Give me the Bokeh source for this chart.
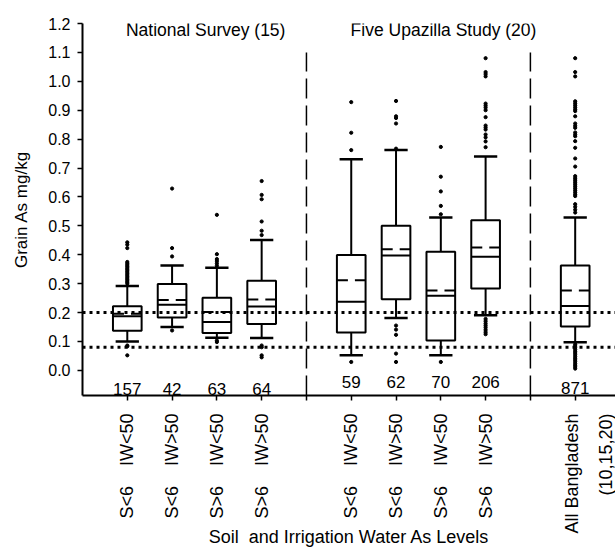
import numpy as np
from bokeh.plotting import figure
from bokeh.models import FixedTicker, PrintfTickFormatter, Span, Range1d, ColumnDataSource
from bokeh.core.properties import value
from bokeh.embed import file_html
from bokeh.resources import INLINE

# ---------------- data ----------------
group_titles = ["National Survey (15)", "Five Upazilla Study (20)", ""]
group_sizes = [4, 4, 1]
NB = "\u00a0"
tick_labels = [
    "S<6" + NB * 4 + "IW<50", "S<6" + NB * 4 + "IW>50", "S>6" + NB * 4 + "IW<50", "S>6" + NB * 4 + "IW>50",
    "S<6" + NB * 4 + "IW<50", "S<6" + NB * 4 + "IW>50", "S>6" + NB * 4 + "IW<50", "S>6" + NB * 4 + "IW>50",
    "All Bangladesh\n(10,15,20)",
]
counts = [157, 42, 63, 64, 59, 62, 70, 206, 871]
q1 = [0.137, 0.183, 0.129, 0.160, 0.131, 0.246, 0.103, 0.283, 0.152]
median = [0.187, 0.227, 0.167, 0.221, 0.237, 0.397, 0.258, 0.393, 0.223]
q3 = [0.222, 0.299, 0.251, 0.310, 0.399, 0.500, 0.410, 0.519, 0.363]
mean = [0.196, 0.243, 0.202, 0.245, 0.312, 0.419, 0.276, 0.425, 0.276]
whisker_low = [0.100, 0.150, 0.113, 0.112, 0.052, 0.181, 0.052, 0.191, 0.097]
whisker_high = [0.292, 0.363, 0.355, 0.451, 0.730, 0.762, 0.529, 0.740, 0.529]
outliers = [
    [0.443, 0.435, 0.423, 0.375, 0.370, 0.365, 0.360, 0.355, 0.350, 0.345, 0.340, 0.335,
     0.330, 0.325, 0.320, 0.315, 0.310, 0.305, 0.300, 0.086, 0.083, 0.052],
    [0.629, 0.423, 0.394, 0.138],
    [0.538, 0.402, 0.385, 0.378, 0.370, 0.362, 0.103, 0.098],
    [0.655, 0.607, 0.592, 0.515, 0.483, 0.468, 0.086, 0.080, 0.052, 0.045],
    [0.928, 0.822, 0.762, 0.029],
    [0.932, 0.879, 0.873, 0.854, 0.767, 0.155, 0.141, 0.123, 0.058, 0.029],
    [0.773, 0.670, 0.619, 0.569, 0.540, 0.029],
    [1.080, 1.032, 1.025, 1.017, 0.923, 0.916, 0.909, 0.900, 0.876, 0.847, 0.840, 0.833,
     0.816, 0.806, 0.792, 0.772, 0.178, 0.170, 0.162, 0.155, 0.148, 0.140, 0.132, 0.125],
    [1.080, 1.032, 1.017, 0.931, 0.924, 0.917, 0.910, 0.903, 0.897, 0.879, 0.854, 0.846,
     0.839, 0.823, 0.816, 0.810, 0.793, 0.770, 0.733, 0.705, 0.672, 0.665, 0.658, 0.651,
     0.644, 0.637, 0.630, 0.623, 0.616, 0.609, 0.603, 0.575, 0.566, 0.556, 0.546,
     0.090, 0.084, 0.078, 0.072, 0.066, 0.060, 0.054, 0.048, 0.042, 0.036, 0.030,
     0.024, 0.018, 0.012, 0.006],
]
reference_levels = [0.2, 0.08]
y_ticks = [0.0, 0.1, 0.2, 0.3, 0.4, 0.5, 0.6, 0.7, 0.8, 0.9, 1.0, 1.1, 1.2]
x_title = "Soil" + NB + NB + "and Irrigation Water As Levels"
y_title = "Grain As mg/kg"

# ---------------- positions from group structure ----------------
positions, dividers, group_centers = [], [], []
start = 1
for size in group_sizes:
    pos = list(range(start, start + size))
    positions += pos
    group_centers.append(np.mean(pos))
    dividers.append(start + size)
    start += size + 1
dividers = dividers[:-1]

FONT = "Liberation Sans"
Y0, Y1 = -0.087, 1.2
p = figure(width=615, height=549, output_backend="svg", toolbar_location=None,
           x_range=Range1d(0, 11.9), y_range=Range1d(Y0, Y1),
           min_border_left=82, min_border_right=0, min_border_top=23, min_border_bottom=152)
p.outline_line_color = None
p.xgrid.visible = False
p.ygrid.visible = False
p.background_fill_color = "white"
p.border_fill_color = "white"

# reference dotted lines
for lvl in reference_levels:
    p.add_layout(Span(location=lvl, dimension="width", line_color="black",
                      line_width=3, line_dash="3 4"))

# group dividers
p.segment(x0=dividers, x1=dividers, y0=[Y0] * len(dividers), y1=[1.1] * len(dividers),
          line_color="black", line_width=1.5, line_dash="20 7")

bw = 0.64
cw = 0.52
src = ColumnDataSource(dict(x=positions, q1=q1, q3=q3, med=median, mean=mean,
                            lo=whisker_low, hi=whisker_high, n=[str(c) for c in counts]))
# whiskers
p.segment(x0="x", x1="x", y0="q3", y1="hi", source=src, line_color="black", line_width=2)
p.segment(x0="x", x1="x", y0="lo", y1="q1", source=src, line_color="black", line_width=2)
xs = np.array(positions, dtype=float)
p.segment(x0=xs - cw / 2, x1=xs + cw / 2, y0=whisker_high, y1=whisker_high, line_color="black", line_width=2.5)
p.segment(x0=xs - cw / 2, x1=xs + cw / 2, y0=whisker_low, y1=whisker_low, line_color="black", line_width=2.5)
# boxes
p.vbar(x="x", width=bw, bottom="q1", top="q3", source=src, fill_color="white",
       line_color="black", line_width=2)
p.segment(x0=xs - bw / 2, x1=xs + bw / 2, y0=median, y1=median, line_color="black", line_width=2)
p.segment(x0=xs - bw / 2, x1=xs + bw / 2, y0=mean, y1=mean, line_color="black", line_width=2,
          line_dash="11 7")

# outliers
ox, oy = [], []
for x, vals in zip(positions, outliers):
    ox += [x] * len(vals)
    oy += vals
p.scatter(ox, oy, size=3.2, marker="circle", fill_color="black", line_color="black")

# counts
count_y = []
for g, size in enumerate(group_sizes):
    count_y += [[-0.063, -0.042, -0.061][g]] * size
src.data["cy"] = count_y
p.text(x="x", y="cy", text="n", source=src, text_align="center", text_baseline="middle",
       text_font=value(FONT), text_font_size="17px", text_color="black")

# group titles
p.text(x=[2.75, 8.06], y=[1.176, 1.176], text=group_titles[:2], text_align="center",
       text_baseline="middle", text_font=value(FONT), text_font_size="17.5px", text_color="black")

# axes
p.yaxis.ticker = FixedTicker(ticks=y_ticks)
p.yaxis.formatter = PrintfTickFormatter(format="%.1f")
p.yaxis.axis_label = y_title
p.xaxis.axis_label = x_title
tick_pos = sorted(positions + dividers)
p.xaxis.ticker = FixedTicker(ticks=tick_pos)
overrides = {d: "" for d in dividers}
for x, lab in zip(positions, tick_labels):
    # multi-line label: pad with a blank leading line so the first text line sits on the tick
    overrides[x] = (NB + "\n" + lab) if "\n" in lab else lab
p.xaxis.major_label_overrides = overrides
p.xaxis.major_label_orientation = np.pi / 2
for ax in (p.xaxis[0], p.yaxis[0]):
    ax.axis_line_width = 2
    ax.axis_line_color = "black"
    ax.major_tick_line_width = 1.5
    ax.major_tick_line_color = "black"
    ax.major_tick_in = 0
    ax.major_tick_out = 5
    ax.minor_tick_line_color = None
    ax.major_label_text_font = FONT
    ax.major_label_text_color = "black"
    ax.axis_label_text_font = FONT
    ax.axis_label_text_font_style = "normal"
    ax.axis_label_text_color = "black"
p.yaxis.major_label_text_font_size = "16px"
p.xaxis.major_label_text_font_size = "18px"
p.xaxis.major_label_text_line_height = 1.7
p.yaxis.axis_label_text_font_size = "17px"
p.xaxis.axis_label_text_font_size = "18px"
p.yaxis.major_label_standoff = 7
p.yaxis.axis_label_standoff = 14
p.xaxis.major_label_standoff = 13
p.xaxis.axis_label_standoff = -10

open("out.html", "w").write(file_html(p, INLINE))
